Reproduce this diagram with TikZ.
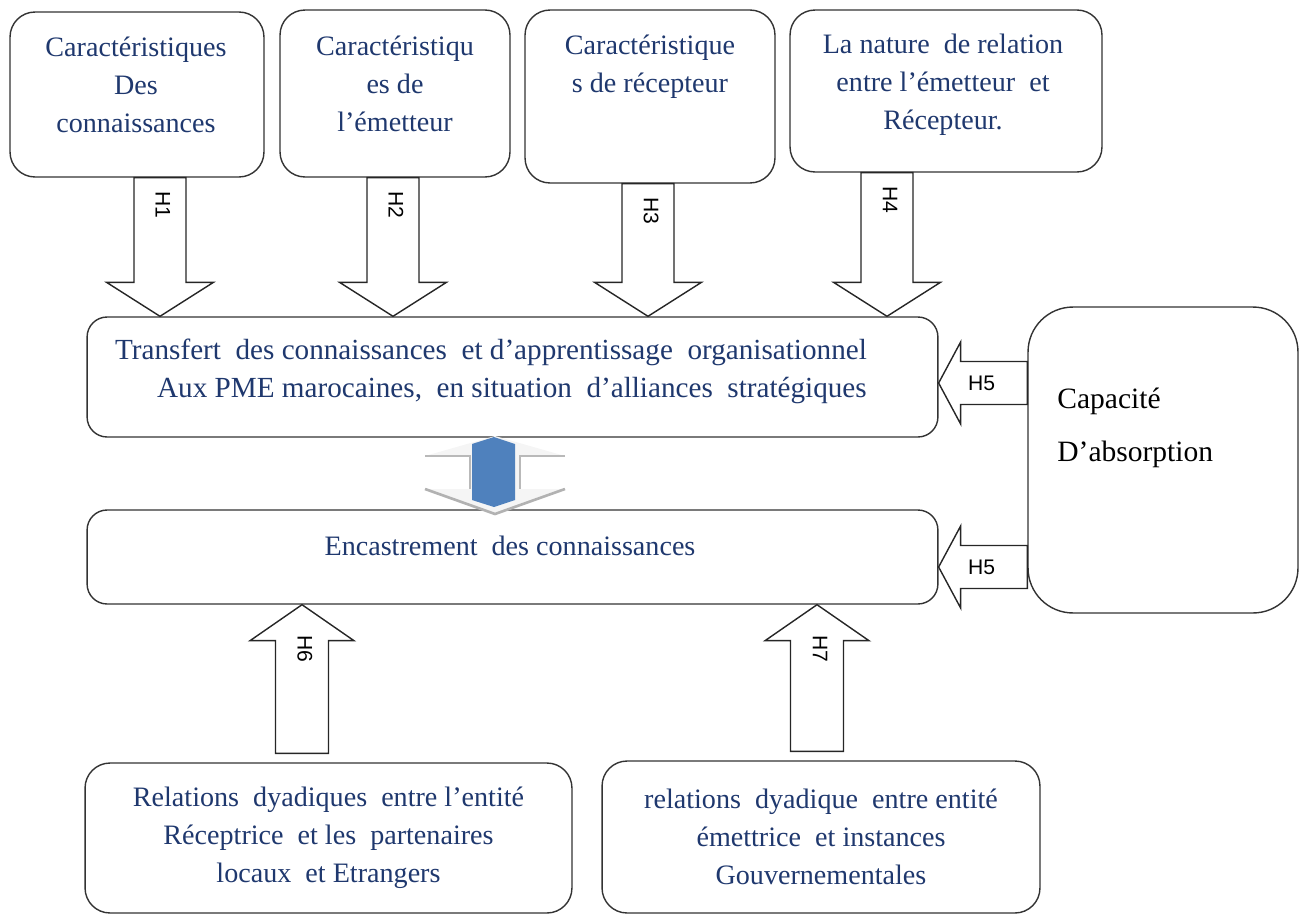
\documentclass[tikz,border=0pt]{standalone}
\usepackage{fontspec}
\setmainfont{Liberation Serif}
\newfontfamily\hfont{Liberation Sans}
\usetikzlibrary{calc}
\definecolor{bleutexte}{RGB}{31,56,110}
\definecolor{bleuforme}{RGB}{79,129,189}

% fleches epaisses : x ou y en pixels, depart, arrivee, etiquette
\newcommand{\flechebas}[4]{%
  \draw[fleche] let \p1=(#2), \p2=(#3), \p3=(#1,0) in
    (\x3-0.52cm,\y1) -- (\x3-0.52cm,\y2+0.68cm) -- (\x3-1.07cm,\y2+0.68cm) -- (\x3,\y2)
    -- (\x3+1.07cm,\y2+0.68cm) -- (\x3+0.52cm,\y2+0.68cm) -- (\x3+0.52cm,\y1) -- cycle
    (\x3+0.06cm,\y1-0.54cm) node[etiquette, rotate=-90] {#4};}
\newcommand{\flechehaut}[4]{%
  \draw[fleche] let \p1=(#2), \p2=(#3), \p3=(#1,0) in
    (\x3-0.53cm,\y1+0.18cm) -- (\x3-0.53cm,\y2-0.72cm) -- (\x3-1.04cm,\y2-0.72cm) -- (\x3,\y2)
    -- (\x3+1.04cm,\y2-0.72cm) -- (\x3+0.53cm,\y2-0.72cm) -- (\x3+0.53cm,\y1+0.18cm) -- cycle
    (\x3+0.06cm,\y2-0.88cm) node[etiquette, rotate=-90] {#4};}
\newcommand{\flechegauche}[4]{%
  \draw[fleche] let \p1=(#2), \p2=(#3), \p3=(0,#1) in
    (\x1,\y3+0.43cm) -- (\x2+0.44cm,\y3+0.43cm) -- (\x2+0.44cm,\y3+0.82cm) -- (\x2,\y3)
    -- (\x2+0.44cm,\y3-0.82cm) -- (\x2+0.44cm,\y3-0.43cm) -- (\x1,\y3-0.43cm) -- cycle
    (\x2+0.86cm,\y3) node[etiquette] {#4};}

\begin{document}
\begin{tikzpicture}[x=0.02cm, y=-0.02cm,
    boite/.style={draw=black!80, line width=0.8pt, rounded corners=0.5cm, fill=white},
    texte/.style={align=center, text=bleutexte, inner sep=0pt, font=\fontsize{16}{21.6}\selectfont},
    etiquette/.style={inner sep=0pt, font=\hfont\fontsize{12}{14}\selectfont},
    fleche/.style={draw=black!85, line width=0.8pt, fill=white}
]
\useasboundingbox (0,0) rectangle (1304,916);

% cadres du haut
\node[boite, minimum width=5.08cm, minimum height=3.3cm] (c1) at (137,94.5) {};
\node[boite, minimum width=4.6cm, minimum height=3.34cm] (c2) at (395,93.5) {};
\node[boite, minimum width=5.0cm, minimum height=3.46cm] (c3) at (650,96.5) {};
\node[boite, minimum width=6.24cm, minimum height=3.24cm] (c4) at (946,91) {};

\node[texte] (t1) at (136,85) {Caractéristiques\\Des\\connaissances};
\node[texte] (t2) at (395,84) {Caractéristiqu\\es de\\l’émetteur};
\node[texte] (t3) at (650,67) {Caractéristique\\s de récepteur};
\node[texte] (t4) at (943,85) {La nature~ de relation\\entre l’émetteur~ et\\Récepteur.};

% cadres du milieu
\node[boite, rounded corners=0.4cm, minimum width=17.02cm, minimum height=2.4cm] (tr) at (512.5,377) {};
\node[boite, rounded corners=0.4cm, minimum width=17.02cm, minimum height=1.88cm] (enc) at (512.5,557) {};
\node[boite, rounded corners=0.9cm, minimum width=5.4cm, minimum height=6.12cm] (cap) at (1163,460) {};

\node[texte, align=left, font=\fontsize{16.6}{21.6}\selectfont] (ttr) at (491,371) {Transfert~ des connaissances~ et d’apprentissage~ organisationnel\\
  \hspace*{0.84cm}Aux PME marocaines,~ en situation~ d’alliances~ stratégiques};
\node[texte] (tenc) at (510,546) {Encastrement~ des connaissances};
\node[texte, align=left, text=black, anchor=west, font=\fontsize{16.8}{30}\selectfont] (tcap) at (1057,428) {Capacité\\D’absorption};

% cadres du bas
\node[boite, texte, minimum width=9.74cm, minimum height=3.0cm] (r1) at (328.5,838)
  {Relations~ dyadiques~ entre l’entité\\Réceptrice~ et les~ partenaires\\locaux~ et Etrangers};
\node[boite, texte, minimum width=8.76cm, minimum height=3.04cm] (r2) at (821,837)
  {relations~ dyadique~ entre entité\\émettrice~ et instances\\Gouvernementales};

% hypotheses
\flechebas{160}{c1.south}{tr.north}{H1}
\flechebas{393}{c2.south}{tr.north}{H2}
\flechebas{648}{c3.south}{tr.north}{H3}
\flechebas{887}{c4.south}{tr.north}{H4}
\flechegauche{383}{cap.west}{tr.east}{H5}
\flechegauche{567}{cap.west}{enc.east}{H5}
\flechehaut{302}{r1.north}{enc.south}{H6}
\flechehaut{817}{r2.north}{enc.south}{H7}

% double fleche entre les deux cadres
\fill[gray!8] (425,456) -- (495,436) -- (565,456) -- (520,456) -- (520,489) -- (565,489)
  -- (495,514) -- (425,489) -- (470,489) -- (470,456) -- cycle;
\draw[gray!55, line width=1.2pt] (425,456) -- (470,456) -- (470,489);
\draw[gray!55, line width=1.2pt] (565,456) -- (520,456) -- (520,489);
\draw[gray!60, line width=1.5pt] (425,489) -- (495,514) -- (565,489);
\fill[bleuforme] (494,437) -- (515,444) -- (515,500) -- (494,507) -- (472,500) -- (472,444) -- cycle;
\end{tikzpicture}
\end{document}
